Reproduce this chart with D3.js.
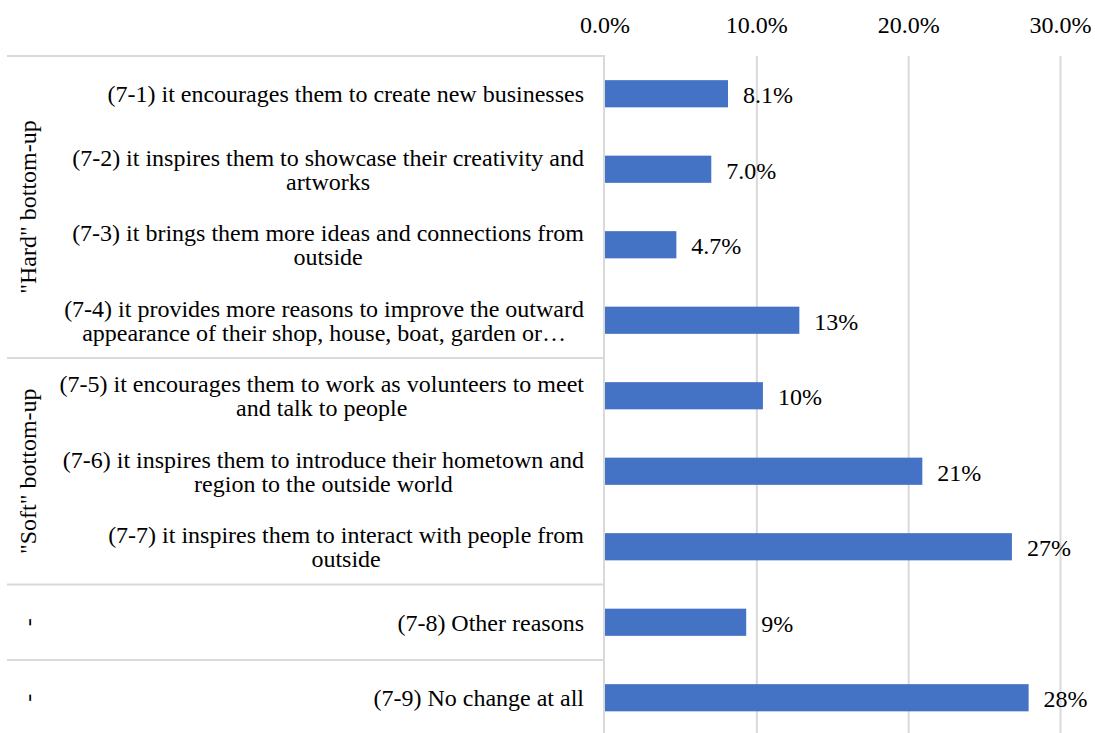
<!DOCTYPE html>
<html>
<head>
<meta charset="utf-8">
<script src="https://cdn.jsdelivr.net/npm/d3@7"></script>
<style>
  body { margin: 0; background: #fff; }
</style>
</head>
<body>
<svg id="svg" width="1095" height="733"></svg>
<script>
// chart data
const categories = [
  "(7-1) it encourages them to create new businesses",
  "(7-2) it inspires them to showcase their creativity and\nartworks",
  "(7-3) it brings them more ideas and connections from\noutside",
  "(7-4) it provides more reasons to improve the outward\nappearance of their shop, house, boat, garden or…",
  "(7-5) it encourages them to work as volunteers to meet\nand talk to people",
  "(7-6) it inspires them to introduce their hometown and\nregion to the outside world",
  "(7-7) it inspires them to interact with people from\noutside",
  "(7-8) Other reasons",
  "(7-9) No change at all"
];
const values = [8.1, 7.0, 4.7, 12.8, 10.4, 20.9, 26.8, 9.3, 27.9];
const valueLabels = ["8.1%", "7.0%", "4.7%", "13%", "10%", "21%", "27%", "9%", "28%"];
const groups = ['"Hard" bottom-up', '"Soft" bottom-up', "-", "-"];
const groupSizes = [4, 3, 1, 1];
const ticks = [0, 10, 20, 30];

const FONT = 24;
const FAMILY = "Liberation Serif";
const svg = d3.select("#svg");
const plotTop = 56, rowH = 75.5;

const x = d3.scaleLinear().domain([0, 30]).range([605, 1060.5]);
const y = d3.scaleBand().domain(d3.range(categories.length))
  .range([plotTop, plotTop + rowH * categories.length]).paddingInner(0.64).paddingOuter(0.32);

// gridlines
svg.append("g").selectAll("line").data(ticks.slice(1)).join("line")
  .attr("x1", d => x(d)).attr("x2", d => x(d))
  .attr("y1", plotTop).attr("y2", 733)
  .attr("stroke", "#d9d9d9").attr("stroke-width", 2);

// top axis labels
svg.append("g").selectAll("text").data(ticks).join("text")
  .attr("x", d => x(d)).attr("y", 33)
  .attr("text-anchor", "middle").attr("font-size", FONT)
  .style("font-family", FAMILY)
  .text(d => d3.format(".1f")(d) + "%");

// group separators
let start = 0;
const bounds = groupSizes.map(n => { const b = [start, start + n]; start += n; return b; });
const rowEdge = i => plotTop + rowH * i;
svg.append("g").selectAll("line").data(bounds).join("line")
  .attr("x1", 7).attr("x2", 605)
  .attr("y1", d => rowEdge(d[0])).attr("y2", d => rowEdge(d[0]))
  .attr("stroke", "#d9d9d9").attr("stroke-width", 2);

// axis line
svg.append("line")
  .attr("x1", 604).attr("x2", 604).attr("y1", plotTop).attr("y2", 733)
  .attr("stroke", "#d9d9d9").attr("stroke-width", 2);

// group labels
svg.append("g").selectAll("text").data(bounds).join("text")
  .attr("transform", d => `translate(28,${(rowEdge(d[0]) + rowEdge(d[1])) / 2}) rotate(-90)`)
  .attr("text-anchor", "middle").attr("dy", "0.33em").attr("font-size", FONT)
  .style("font-family", FAMILY)
  .text((d, i) => groups[i]);

// category labels, lines centred on the widest line, right edge at 584
const lineH = 24;
const catG = svg.append("g").selectAll("g").data(categories).join("g");
catG.each(function (d, i) {
  const g = d3.select(this);
  const lines = d.split("\n");
  const cy = y(i) + y.bandwidth() / 2;
  const ts = lines.map((l, k) => g.append("text")
    .attr("font-size", FONT).attr("text-anchor", "middle")
    .style("font-family", FAMILY)
    .attr("y", cy + (k - (lines.length - 1) / 2) * lineH).attr("dy", "0.35em")
    .text(l));
  const w = d3.max(ts, t => t.node().getComputedTextLength());
  ts.forEach(t => t.attr("x", 584 - w / 2));
});

// bars
svg.append("g").selectAll("rect").data(values).join("rect")
  .attr("x", x(0)).attr("y", (d, i) => y(i))
  .attr("width", d => x(d) - x(0)).attr("height", y.bandwidth())
  .attr("fill", "#4472c4");

// value labels
svg.append("g").selectAll("text").data(values).join("text")
  .attr("x", d => x(d) + 15).attr("y", (d, i) => y(i) + y.bandwidth() / 2 + 1)
  .attr("dy", "0.35em").attr("font-size", FONT)
  .style("font-family", FAMILY)
  .text((d, i) => valueLabels[i]);
</script>
</body>
</html>
